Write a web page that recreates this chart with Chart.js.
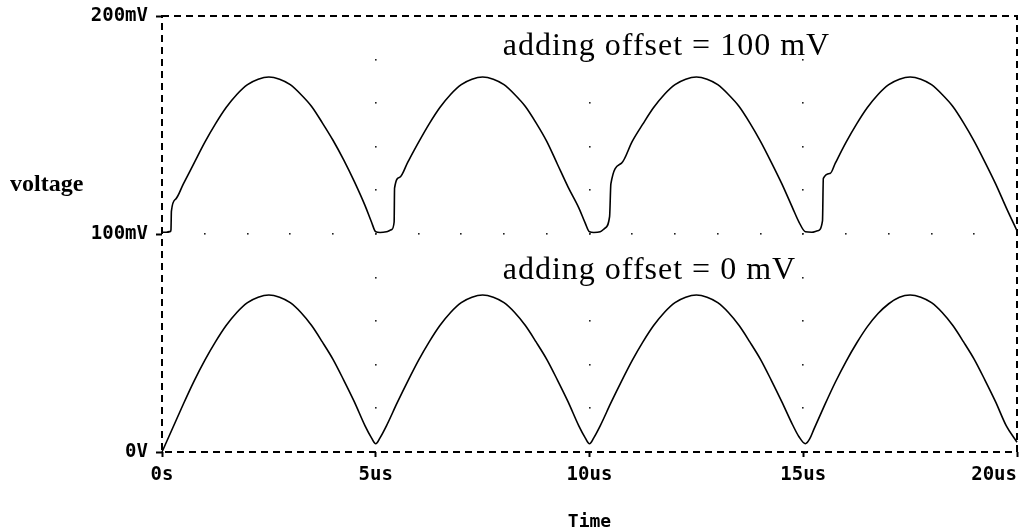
<!DOCTYPE html>
<html>
<head>
<meta charset="utf-8">
<script src="https://cdn.jsdelivr.net/npm/chart.js"></script>
<style>
  html, body { margin: 0; padding: 0; background: #fff; }
  #wrap { width: 1025px; height: 531px; }
</style>
</head>
<body>
<div id="wrap"><canvas id="scope_chart" width="1025" height="531"></canvas></div>
<script>
// rectified output, no offset (time in us, voltage in mV)
var timeLower = [
    0, 0.25, 0.5, 0.75, 1, 1.25, 1.5, 1.75, 2, 2.25, 2.5, 2.75, 3, 3.25, 3.5, 3.75, 4, 4.25, 4.5, 4.75, 4.9,
    5, 5.1, 5.25, 5.5, 5.75, 6, 6.25, 6.5, 6.75, 7, 7.25, 7.5, 7.75, 8, 8.25, 8.5, 8.75, 9, 9.25, 9.5, 9.75, 9.9,
    10, 10.1, 10.25, 10.5, 10.75, 11, 11.25, 11.5, 11.75, 12, 12.25, 12.5, 12.75, 13, 13.25, 13.5, 13.75, 14, 14.25, 14.5, 14.75, 14.9,
    15.05, 15.15, 15.25, 15.5, 15.75, 16, 16.25, 16.5, 16.75, 17, 17.25, 17.5, 17.75, 18, 18.25, 18.5, 18.75, 19, 19.25, 19.5, 19.75, 20
];
var voltLower = [
    0, 11, 22, 32.5, 42, 50.5, 58, 64, 68.5, 71, 72, 71, 68.5, 64, 58, 50.5, 42.5, 33, 23, 12, 6.5,
    3.8, 6.5, 12, 22.5, 32.5, 42, 50.5, 58, 64, 68.5, 71, 72, 71, 68.5, 64, 58, 50.5, 42.5, 33, 23, 12, 6.5,
    3.8, 6.5, 12, 22.5, 32.5, 42, 50.5, 58, 64, 68.5, 71, 72, 71, 68.5, 64, 58, 50.5, 42.5, 33, 23, 12.5, 7,
    3.8, 6, 10.5, 21.5, 32, 41.5, 50, 57.5, 63.5, 68, 71, 72, 71, 68.5, 64, 58, 50.5, 42.5, 33, 23, 12, 4.5
];

// same output with the 100 mV offset added
var timeUpper = [
    0, 0.1, 0.2, 0.21, 0.22, 0.32, 0.5, 0.75, 1, 1.25, 1.5, 1.75, 2, 2.25, 2.5, 2.75, 3, 3.25, 3.5, 3.75, 4, 4.25, 4.5, 4.75, 4.9,
    5, 5.1, 5.25, 5.37, 5.43, 5.44, 5.56, 5.75, 6, 6.25, 6.5, 6.75, 7, 7.25, 7.5, 7.75, 8, 8.25, 8.5, 8.75, 9, 9.25, 9.5, 9.75, 9.9,
    10, 10.1, 10.25, 10.35, 10.47, 10.5, 10.75, 11, 11.25, 11.5, 11.75, 12, 12.25, 12.5, 12.75, 13, 13.25, 13.5, 13.75, 14, 14.25, 14.5, 14.75, 14.9,
    15.05, 15.2, 15.34, 15.45, 15.47, 15.63, 15.75, 16, 16.25, 16.5, 16.75, 17, 17.25, 17.5, 17.75, 18, 18.25, 18.5, 18.75, 19, 19.25, 19.5, 19.75, 20
];
var voltUpper = [
    100.8, 100.8, 101.2, 102, 110.5, 116, 123, 132.5, 142, 150.5, 158, 164, 168.5, 171, 172, 171, 168.5, 164, 158.5, 151, 143, 134, 124, 113, 105.5,
    101, 100.7, 101, 102, 105.5, 121, 126, 133, 142, 150.5, 158, 164, 168.5, 171, 172, 171, 168.5, 164, 158.5, 151, 142.5, 132, 121.5, 112, 105,
    101, 100.7, 101, 102.5, 108, 123, 132.5, 142.5, 150.5, 158, 164, 168.5, 171, 172, 171, 168.5, 164, 158.5, 151, 142.5, 133, 123, 112, 105.5,
    101, 100.8, 101.5, 106, 125.5, 127.8, 132.5, 142, 150.5, 158, 164, 168.5, 171, 172, 171, 168.5, 164, 158.5, 151, 142.5, 133, 123, 112, 101.5
];

var xTicks = [0, 5, 10, 15, 20];
var xTickLabels = ['0s', '5us', '10us', '15us', '20us'];
var yTicks = [0, 100, 200];
var yTickLabels = ['0V', '100mV', '200mV'];

// dotted grid: a row of dots on 100mV, columns of dots on 5/10/15us
var dotRowVolt = 100;
var dotRowTimes = [1, 2, 3, 4, 5, 6, 7, 8, 9, 10, 11, 12, 13, 14, 15, 16, 17, 18, 19];
var dotColTimes = [5, 10, 15];
var dotColVolts = [20, 40, 60, 80, 100, 120, 140, 160, 180];

var notes = [
    { text: 'adding offset = 100 mV', t: 7.97, v: 182 },
    { text: 'adding offset = 0 mV', t: 7.97, v: 79.4 }
];

var tickFont = { family: '"DejaVu Sans Mono"', size: 19, weight: 'bold' };

function toPoints(xs, ys) {
    var pts = [];
    for (var i = 0; i < xs.length; i++) {
        pts.push({ x: xs[i], y: ys[i] });
    }
    return pts;
}

var scopeFrame = {
    id: 'scopeFrame',
    beforeDatasetsDraw(chart) {
        var ctx = chart.ctx, a = chart.chartArea;
        var xs = chart.scales.x, ys = chart.scales.y;
        ctx.save();
        ctx.fillStyle = '#222';
        dotRowTimes.forEach(function (t) {
            ctx.fillRect(Math.round(xs.getPixelForValue(t)) - 1, Math.round(ys.getPixelForValue(dotRowVolt)) - 1, 1.6, 1.6);
        });
        dotColTimes.forEach(function (t) {
            dotColVolts.forEach(function (v) {
                ctx.fillRect(Math.round(xs.getPixelForValue(t)) - 1, Math.round(ys.getPixelForValue(v)) - 1, 1.6, 1.6);
            });
        });
        // dashed plot frame
        ctx.strokeStyle = '#000';
        ctx.lineWidth = 2;
        ctx.setLineDash([7, 5]);
        ctx.strokeRect(a.left, a.top, a.right - a.left, a.bottom - a.top);
        ctx.restore();
    },
    afterDraw(chart) {
        var ctx = chart.ctx;
        var xs = chart.scales.x, ys = chart.scales.y;
        ctx.save();
        ctx.fillStyle = '#000';
        ctx.textAlign = 'left';
        ctx.textBaseline = 'alphabetic';
        ctx.font = 'bold 24px "Liberation Serif"';
        ctx.fillText('voltage', 10, 191);
        ctx.font = '32px "Liberation Serif"';
        ctx.letterSpacing = '1px';
        notes.forEach(function (n) {
            ctx.fillText(n.text, xs.getPixelForValue(n.t), ys.getPixelForValue(n.v));
        });
        ctx.restore();
    }
};

var lineStyle = {
    borderColor: '#000',
    borderWidth: 1.6,
    pointRadius: 0,
    cubicInterpolationMode: 'monotone',
    clip: 4
};

var ctx = document.getElementById('scope_chart').getContext('2d');
var chartObj = new Chart(ctx, {
    type: 'line',
    data: {
        datasets: [
            Object.assign({ data: toPoints(timeUpper, voltUpper) }, lineStyle),
            Object.assign({ data: toPoints(timeLower, voltLower) }, lineStyle)
        ]
    },
    options: {
        responsive: false,
        animation: false,
        devicePixelRatio: 1,
        layout: { padding: { top: 16, right: 8, left: 0, bottom: 0 } },
        plugins: {
            legend: { display: false },
            tooltip: { enabled: false }
        },
        scales: {
            x: {
                type: 'linear',
                min: 0,
                max: 20,
                afterBuildTicks(scale) {
                    scale.ticks = xTicks.map(function (v) { return { value: v }; });
                },
                afterFit(scale) {
                    scale.height = 79;
                    scale.paddingLeft = 0;
                    scale.paddingRight = 0;
                },
                ticks: {
                    color: '#000',
                    font: tickFont,
                    padding: 7,
                    maxRotation: 0,
                    autoSkip: false,
                    callback(value, index) {
                        var label = xTickLabels[index];
                        // the last label sits flush with the right edge
                        if (index === xTickLabels.length - 1) {
                            return label + ' '.repeat(label.length);
                        }
                        return label;
                    }
                },
                grid: {
                    drawOnChartArea: false,
                    drawTicks: true,
                    tickLength: 5,
                    tickWidth: 2,
                    tickColor: '#000'
                },
                border: { display: false },
                title: {
                    display: true,
                    text: 'Time',
                    color: '#000',
                    font: { family: '"DejaVu Sans Mono"', size: 18, weight: 'bold', lineHeight: 1 },
                    padding: { top: 0, bottom: 0 }
                }
            },
            y: {
                min: 0,
                max: 200,
                afterBuildTicks(scale) {
                    scale.ticks = yTicks.map(function (v) { return { value: v }; });
                },
                afterFit(scale) {
                    scale.width = 162;
                    scale.paddingTop = 0;
                    scale.paddingBottom = 0;
                },
                ticks: {
                    color: '#000',
                    font: tickFont,
                    padding: 8,
                    autoSkip: false,
                    callback(value, index) {
                        return yTickLabels[index];
                    }
                },
                grid: {
                    drawOnChartArea: false,
                    drawTicks: true,
                    tickLength: 6,
                    tickWidth: 2,
                    tickColor: '#000'
                },
                border: { display: false }
            }
        }
    },
    plugins: [scopeFrame]
});
</script>
</body>
</html>
